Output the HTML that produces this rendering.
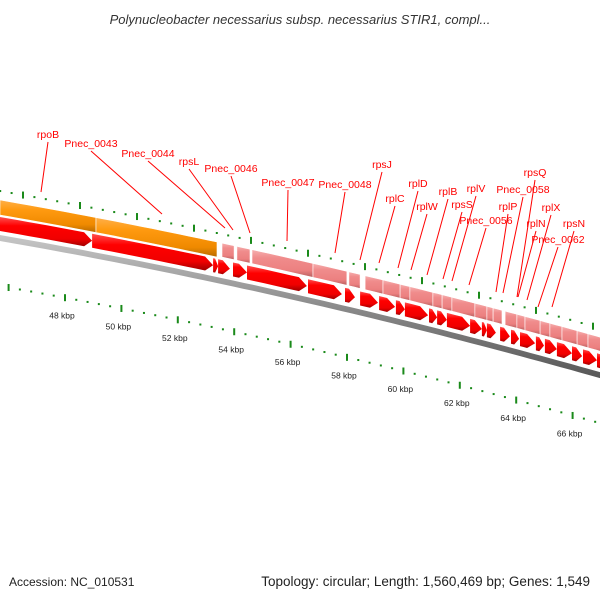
<!DOCTYPE html>
<html><head><meta charset="utf-8">
<style>
html,body{margin:0;padding:0;background:#fff;}
svg{display:block;font-family:"Liberation Sans","DejaVu Sans",sans-serif;}
</style></head>
<body>
<svg id="map" width="600" height="600" viewBox="0 0 600 600" xmlns="http://www.w3.org/2000/svg">
<defs>
<linearGradient id="gOrange" x1="0" y1="0" x2="0" y2="1">
<stop offset="0" stop-color="#ffb04a"/><stop offset="0.3" stop-color="#ff9a10"/><stop offset="0.75" stop-color="#f08a00"/><stop offset="1" stop-color="#b86a00"/></linearGradient>
<linearGradient id="gPink" x1="0" y1="0" x2="0" y2="1">
<stop offset="0" stop-color="#f6b0b0"/><stop offset="0.3" stop-color="#f08c8c"/><stop offset="0.75" stop-color="#ec8080"/><stop offset="1" stop-color="#b86060"/></linearGradient>
<linearGradient id="gRed" x1="0" y1="0" x2="0" y2="1">
<stop offset="0" stop-color="#ff5050"/><stop offset="0.3" stop-color="#ff0000"/><stop offset="0.75" stop-color="#f00000"/><stop offset="1" stop-color="#a00000"/></linearGradient>
<linearGradient id="gGray" x1="0" y1="0" x2="0" y2="1">
<stop offset="0" stop-color="#c8c8c8"/><stop offset="0.5" stop-color="#8a8a8a"/><stop offset="1" stop-color="#555"/></linearGradient>
</defs>
<text x="300" y="24" text-anchor="middle" font-size="13" font-style="italic" fill="#333">Polynucleobacter necessarius subsp. necessarius STIR1, compl...</text>
<g id="ticks"></g>
<g id="features"></g>
<g id="labels"></g>
<text x="9" y="586" font-size="12" fill="#222">Accession: NC_010531</text>
<text x="590" y="586" text-anchor="end" font-size="13.5" fill="#222">Topology: circular; Length: 1,560,469 bp; Genes: 1,549</text>
</svg>
<script>
// data (kbp offsets from view start 45.8 kbp)
const viewStartKbp = 45.8;
const orangeStarts = [0, 3.43];
const orangeEnds = [3.43, 7.75];
const pinkStarts = [7.93,8.46,9.0,11.18,12.46,13.04,13.68,14.29,14.64,15.46,15.79,16.14,16.96,17.39,17.61,18.04,18.46,18.75,19.29,19.64,20.07,20.61,21.0];
const pinkEnds   = [8.36,8.93,11.18,12.39,12.86,13.68,14.29,14.64,15.46,15.79,16.14,16.96,17.39,17.61,17.93,18.46,18.75,19.29,19.64,20.07,20.61,21.0,21.6];
const redStarts = [0,3.29,7.61,7.79,8.32,8.82,11.0,12.32,12.86,13.54,14.14,14.46,15.32,15.61,15.96,16.79,17.21,17.39,17.86,18.25,18.57,19.14,19.46,19.89,20.43,20.82,21.32];
const redEnds   = [3.29,7.61,7.79,8.21,8.82,10.96,12.21,12.68,13.5,14.11,14.46,15.29,15.61,15.96,16.79,17.21,17.39,17.71,18.21,18.54,19.11,19.43,19.89,20.43,20.79,21.32,21.8];
const scaleKbp = [48,50,52,54,56,58,60,62,64,66];
const scaleLabels = ["48 kbp","50 kbp","52 kbp","54 kbp","56 kbp","58 kbp","60 kbp","62 kbp","64 kbp","66 kbp"];
const geneNames = ["rpoB","Pnec_0043","Pnec_0044","rpsL","Pnec_0046","Pnec_0047","Pnec_0048","rpsJ","rplC","rplD","rplW","rplB","rpsS","rplV","Pnec_0056","rplP","Pnec_0058","rpsQ","rplX","rplN","Pnec_0062","rpsN"];
const labelX = [48,91,148,189,231,288,345,382,395,418,427,448,462,476,486,508,523,535,551,536,558,574];
const labelY = [138,147,157,165,172,186,188,168,202,187,210,195,208,192,224,210,193,176,211,227,243,227];
const lineEnd = [[41,192],[162,214],[225,228],[233,230],[250,233],[287,241],[335,253],[360,260],[379,263],[398,268],[411,270],[427,275],[443,279],[452,281],[469,285],[496,292],[503,293],[517,297],[527,300],[518,297],[538,307],[552,307]];

const NS = "http://www.w3.org/2000/svg";
function Y(x){ return 0.174*x + 0.000091*x*x; }
function xs(k){ return k*28; }
function mk(tag, attrs, parent){ const e=document.createElementNS(NS,tag); for(const k in attrs) e.setAttribute(k,attrs[k]); parent.appendChild(e); return e; }
const gF=document.getElementById('features'), gT=document.getElementById('ticks'), gL=document.getElementById('labels');

function band(x0,x1,top,bot,head){
  const pts=[]; const hx = head ? Math.max(x0, x1-Math.min(8,(x1-x0)*0.6)) : x1;
  const n=Math.max(2,Math.ceil((hx-x0)/10));
  for(let i=0;i<=n;i++){const x=x0+(hx-x0)*i/n; pts.push([x,Y(x)+top]);}
  if(head){ pts.push([x1,Y(x1)+(top+bot)/2]); }
  for(let i=n;i>=0;i--){const x=x0+(hx-x0)*i/n; pts.push([x,Y(x)+bot]);}
  return pts.map(p=>p[0].toFixed(1)+","+p[1].toFixed(1)).join(" ");
}
const gray=mk('polygon',{points:band(-5,610,235,241,false),fill:'url(#gGray)'},gF);


orangeStarts.forEach((s,i)=>{
  const p=mk('polygon',{points:band(xs(s),xs(orangeEnds[i]),200,215,false),fill:'url(#gOrange)',stroke:'#fff','stroke-width':0.6},gF);
  
  
});
pinkStarts.forEach((s,i)=>{
  const p=mk('polygon',{points:band(xs(s),xs(pinkEnds[i]),200,214,false),fill:'url(#gPink)',stroke:'#fff','stroke-width':0.6},gF);
  
  
});
redStarts.forEach((s,i)=>{
  const p=mk('polygon',{points:band(xs(s),xs(redEnds[i]),217,231,true),fill:'url(#gRed)'},gF);
  
  
});
for(let x=23-57;x<620;x+=57){
  for(let j=0;j<5;j++){
    const xx=x+j*11.4; if(xx<0||xx>600) continue; const y=Y(xx)+191;
    if(j===0){ const t=mk('rect',{x:xx-1,y:y-3.5,width:2,height:7,fill:'#1a8a1a'},gT);
      
      
    } else { const t=mk('rect',{x:xx-1,y:y-1,width:2,height:2,fill:'#1a8a1a'},gT);
      
      
    }
  }
}
function lx(k){ return 65+(k-48)*28.2; }
for(let k=46;k<=68;k+=2){
  for(let j=0;j<5;j++){
    const xx=lx(k)+j*11.28; if(xx<0||xx>600) continue; const y=Y(xx)+286;
    if(j===0){ const t=mk('rect',{x:xx-1,y:y-3.5,width:2,height:7,fill:'#1a8a1a'},gT);
      
      
    } else { const t=mk('rect',{x:xx-1,y:y-1,width:2,height:2,fill:'#1a8a1a'},gT);
      
      
    }
  }
}
scaleKbp.forEach((k,i)=>{
  const x=lx(k); const t=mk('text',{x:x-3,y:Y(x)+286+21,'text-anchor':'middle','font-size':8.5,fill:'#222'},gT);
  t.textContent=scaleLabels[i];
  
  
});
geneNames.forEach((n,i)=>{
  const l=mk('line',{x1:labelX[i],y1:labelY[i]+4,x2:lineEnd[i][0],y2:lineEnd[i][1],stroke:'#ff0000','stroke-width':1},gL);
  
  
  const t=mk('text',{x:labelX[i],y:labelY[i],'text-anchor':'middle','font-size':10.5,fill:'#ff0000'},gL);
  t.textContent=n;
  
  
});
</script>
</body></html>
